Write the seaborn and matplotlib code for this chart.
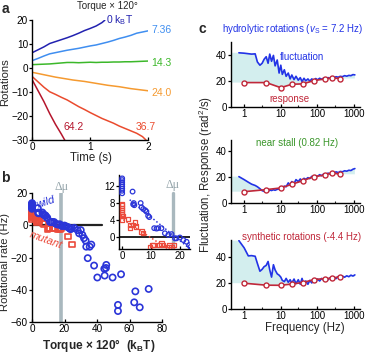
import numpy as np
import pandas as pd
import matplotlib
matplotlib.use("Agg")
import matplotlib.pyplot as plt
import seaborn as sns
from matplotlib.ticker import FixedLocator, NullFormatter, LogLocator

# ---------------- data ----------------
# panel a : rotation traces
t_0 = [0, 0.1, 0.2, 0.3, 0.4, 0.5, 0.6, 0.7, 0.8, 0.9, 1.0, 1.1, 1.2, 1.25]
rot_0 = [6.4, 7.6, 8.8, 10.2, 11.0, 11.8, 12.6, 13.5, 14.5, 15.6, 16.5, 17.5, 18.9, 19.9]
t_full = [0, 0.1, 0.2, 0.3, 0.4, 0.5, 0.6, 0.7, 0.8, 0.9, 1.0, 1.1, 1.2, 1.3, 1.4,
          1.5, 1.6, 1.7, 1.8, 1.9, 2.0]
rot_736 = [3.1, 4.0, 5.0, 5.9, 6.4, 6.9, 7.4, 7.8, 8.2, 8.7, 9.2, 9.6, 10.2, 10.8, 11.5,
           12.3, 12.9, 13.6, 14.5, 15.0, 15.5]
rot_143 = [1.4, 1.5, 1.6, 1.7, 1.9, 2.1, 2.3, 2.3, 2.2, 2.3, 2.4, 2.3, 2.4, 2.4, 2.5,
           2.5, 2.6, 2.6, 2.7, 2.8, 2.9]
rot_240 = [-1.8, -2.3, -2.8, -3.3, -3.8, -4.2, -4.6, -5.0, -5.3, -5.6, -6.0, -6.4, -6.8,
           -7.2, -7.5, -7.8, -8.2, -8.6, -8.9, -9.2, -9.5]
t_367 = [0, 0.1, 0.2, 0.3, 0.4, 0.5, 0.6, 0.7, 0.8, 0.9, 1.0, 1.1, 1.2, 1.3, 1.4,
         1.5, 1.6, 1.7, 1.8, 1.9, 1.96]
rot_367 = [-3.6, -5.8, -8.0, -9.9, -11.0, -12.2, -13.3, -14.7, -16.1, -17.3, -18.6, -19.8,
           -21.0, -22.0, -23.0, -24.2, -25.2, -26.2, -27.2, -28.6, -30.0]
t_642 = [0, 0.1, 0.2, 0.3, 0.4, 0.5, 0.57]
rot_642 = [-5.0, -9.5, -14.0, -19.0, -23.5, -27.5, -30.5]
trace_labels = ["0 k$_\\mathrm{B}$T", "7.36", "14.3", "24.0", "36.7", "64.2"]

# panel b : rotational rate vs torque
wild_torque = [0, 0, 0, 0, 0, 0, 0, 0,
               3.6, 3.8, 4.0, 4.2, 6.4, 6.7, 7.3, 8.0, 8.4, 9.0, 9.4,
               11.1, 11.9, 12.5, 13.6, 14.8, 16.0, 17.1, 18.3, 18.8, 20.0, 21.2,
               22.3, 23.2, 23.7,
               24.5, 26, 28, 29, 30, 31, 32, 33, 33.4, 35.5, 36.5, 34.3, 38.2, 40.2,
               44.5, 45.7, 45.5, 44.7, 49.6, 54.8, 52.9, 52.9, 63.6, 62.9, 66.3, 71.8]
wild_rate = [10.2, 10.8, 11.3, 11.8, 12.3, 12.8, 13.3, 13.7,
             10.6, 7.6, 7.9, 7.4, 7.9, 6.9, 6.5, 6.2, 5.9, 4.9, 4.6,
             2.0, 1.9, 2.0, 2.0, 0.8, 0.4, 0.6, -0.4, -0.4, -0.2, -0.8,
             -1.2, -2.0, -2.4,
             -2.0, -1.6, -3.0, -5.0, -3.0, -6.0, -8.0, -9.5, -13.3, -13.3, -12.0, -20.4,
             -25.0, -32.4, -27.0, -24.6, -26.5, -31.2, -32.4, -30.4, -49.4, -53.2, -41.0,
             -47.8, -50.9, -39.5]
mut_torque = [0, 0, 0, 0, 0, 0, 0, 0,
              0.3, 2.1, 2.9, 2.7, 3.8, 4.4, 4.7, 6.7, 7.3,
              9.6, 10.5, 10.9, 12.9, 13.6, 14.2, 16.0, 16.4, 17.1, 18.0, 22.1, 24.6]
mut_rate = [4.0, 4.8, 5.3, 5.8, 6.3, 6.8, 7.3, 7.7,
            4.9, 4.1, 2.8, 2.0, 2.8, 3.3, 2.4, 1.2, 0.8,
            -2.4, -2.0, -1.9, -1.9, -1.6, -2.0, -2.4, -2.0, -2.4, -2.0, -7.0, -12.0]
delta_mu_main = 18.0
delta_mu_inset = 17.5

# panel c : fluctuation & response spectra
freq = [0.72, 1.0, 1.3, 1.6, 2.0, 2.3, 2.7, 3.1, 3.5, 4.0,
        4.5, 5.0, 5.6, 6.3, 7.0, 8.0, 9.0, 10, 11, 12.5,
        14, 16, 18, 20, 23, 26, 30, 34, 38, 43,
        48, 55, 62, 70, 80, 90, 100, 115, 130, 150,
        170, 195, 220, 250, 285, 320, 370, 420, 480, 550,
        630, 720, 820, 930, 1050]
fluct_hydro = [41.5, 41.2, 40.8, 40.5, 40.7, 34.5, 32.0, 33.5, 36.5, 38.5,
               33.5, 40.5, 35.0, 39.5, 31.5, 36.0, 26.0, 32.0, 25.0, 28.5,
               23.5, 26.0, 21.5, 24.5, 21.0, 23.5, 20.5, 22.5, 19.5, 22.0,
               20.0, 21.5, 19.8, 21.5, 20.5, 21.8, 20.8, 22.0, 21.2, 22.3,
               21.5, 22.5, 22.0, 23.0, 22.3, 23.2, 22.8, 23.5, 23.2, 24.0,
               23.6, 24.2, 24.0, 24.8, 24.6]
fluct_stall = [20.3, 18.0, 16.0, 14.5, 13.5, 12.5, 11.0, 9.5, 9.0, 9.4,
               9.0, 10.0, 9.6, 10.2, 9.8, 10.5, 10.8, 11.0, 11.8, 13.0,
               12.5, 15.5, 13.8, 16.5, 15.0, 18.0, 16.5, 18.5, 17.2, 19.0,
               18.2, 19.5, 18.8, 20.5, 19.8, 21.0, 20.5, 21.8, 21.0, 22.5,
               21.8, 23.0, 22.3, 23.5, 22.8, 24.0, 23.4, 24.3, 24.0, 24.8,
               24.5, 25.2, 25.0, 26.0, 26.5]
fluct_synth = [52.5, 47.0, 40.8, 41.0, 40.5, 35.0, 29.0, 30.5, 32.5, 33.5,
               36.5, 30.0, 24.5, 34.0, 30.0, 27.0, 26.0, 24.5, 22.0, 21.0,
               23.5, 20.5, 22.5, 20.0, 23.0, 19.5, 22.5, 19.0, 23.5, 18.5,
               21.5, 19.0, 22.0, 20.0, 22.5, 20.8, 23.0, 21.5, 23.5, 22.0,
               23.8, 22.5, 24.0, 23.0, 24.5, 23.3, 25.0, 24.0, 25.3, 24.4,
               25.5, 24.8, 26.0, 25.3, 26.2]
resp_freq = [1, 4, 10, 20, 40, 80, 160, 250, 400]
resp_hydro = [18.7, 18.7, 14.8, 17.4, 17.7, 20.2, 21.5, 22.3, 21.8]
resp_stall = [8.7, 10.3, 11.6, 14.4, 17.2, 20.3, 21.5, 23.4, 22.1]
resp_synth = [19.8, 18.3, 18.2, 19.2, 20.3, 22.6, 23.4, 23.6, 24.8]
freq_ticks = [1, 10, 100, 1000]

# ---------------- style ----------------
sns.set_theme(style="ticks")
plt.rcParams['font.family'] = ['Liberation Sans', 'DejaVu Sans']
plt.rcParams['mathtext.fontset'] = 'custom'
plt.rcParams['mathtext.rm'] = 'Liberation Sans'
plt.rcParams['mathtext.it'] = 'Liberation Sans:italic'
plt.rcParams['mathtext.bf'] = 'Liberation Sans:bold'
plt.rcParams['axes.linewidth'] = 1.0

W, H = 367, 356
fig = plt.figure(figsize=(W / 100, H / 100), dpi=100)


def ax_px(l, t, r, b, **kw):
    return fig.add_axes([l / W, 1 - b / H, (r - l) / W, (b - t) / H], **kw)


def style(ax, fs=7):
    sns.despine(ax=ax)
    ax.tick_params(axis='both', labelsize=fs, width=0.9, length=2.0, pad=1.0, colors='black')
    ax.tick_params(axis='x', direction='in', pad=1.2)
    ax.tick_params(axis='y', direction='out')
    for s in ('left', 'bottom'):
        ax.spines[s].set_color('black')
    ax.set_xlabel('')
    ax.set_ylabel('')


def ftxt(x, y, s, **kw):
    fig.text(x / W, 1 - y / H, s, **kw)


# ---------------- panel a ----------------
cols_a = ['#2222b0', '#3f8ef0', '#3cb82a', '#f59a30', '#ea4b2e', '#b5162d']
ax_a = ax_px(32.3, 20, 148.3, 140)
traces = [(t_0, rot_0), (t_full, rot_736), (t_full, rot_143), (t_full, rot_240),
          (t_367, rot_367), (t_642, rot_642)]
for (tt, rr), c in zip(traces, cols_a):
    sns.lineplot(x=tt, y=rr, ax=ax_a, color=c, lw=1.1, sort=False, estimator=None)
ax_a.set_xlim(0, 2)
ax_a.set_ylim(-30, 20)
ax_a.set_xticks([0, 1, 2])
ax_a.set_yticks([-30, -20, -10, 0, 10, 20])
style(ax_a, 7.2)
lab_pos = [(106, 20), (151, 30), (151, 63), (151, 93), (136, 127), (63, 127)]
for (x, y), s, c in zip(lab_pos, trace_labels, cols_a):
    ftxt(x, y, s, color=c, fontsize=7.5, ha='left', va='center')
ftxt(5, 9, 'a', fontsize=10, fontweight='bold', ha='center', va='center')
ftxt(107, 6, 'Torque × 120°', fontsize=7, ha='center', va='center')
ftxt(5.5, 82, 'Rotations', fontsize=8.1, rotation=90, ha='center', va='center')
ftxt(91, 158, 'Time (s)', fontsize=8.3, ha='center', va='center')

# ---------------- panel b ----------------
blue_b = '#2b35d8'
red_b = '#eb4b3c'
band = '#a9b8be'
df_w = pd.DataFrame({'torque': wild_torque, 'rate': wild_rate})
df_m = pd.DataFrame({'torque': mut_torque, 'rate': mut_rate})

ax_b = ax_px(32, 193, 162, 322)
ax_b.axvline(delta_mu_main, color=band, lw=2.6, zorder=0)
ax_b.axhline(0, xmin=0, xmax=43 / 80, color='#222222', lw=1.6, zorder=1)
sns.scatterplot(data=df_m, x='torque', y='rate', ax=ax_b, marker='s', s=16,
                facecolor='none', edgecolor=red_b, linewidth=1.2, clip_on=False, zorder=3)
sns.scatterplot(data=df_w, x='torque', y='rate', ax=ax_b, marker='o', s=20,
                facecolor='none', edgecolor=blue_b, linewidth=1.2, clip_on=False, zorder=4)
ax_b.set_xlim(0, 80)
ax_b.set_ylim(-60, 20)
ax_b.set_xticks([0, 20, 40, 60, 80])
ax_b.set_yticks([-60, -40, -20, 0, 20])
style(ax_b, 7.2)
ax_b.text(delta_mu_main, 20.3, 'Δμ', color='#93a3a9', fontsize=8.5, ha='center', va='bottom',
          family=['Liberation Serif', 'DejaVu Serif'])
ftxt(46, 202, 'wild', color=blue_b, fontsize=8, style='italic', rotation=18,
     ha='center', va='center')
ftxt(46, 240, 'mutant', color=red_b, fontsize=8, style='italic', rotation=-20,
     ha='center', va='center')
ftxt(5, 178, 'b', fontsize=10, fontweight='bold', ha='center', va='center')
ftxt(5.5, 262, 'Rotational rate (Hz)', fontsize=8.1, rotation=90, ha='center', va='center')
ftxt(99, 346, 'Torque × 120°  (k$_\\mathbf{B}$T)', fontsize=8.5, fontweight='bold',
     ha='center', va='center')

# inset
ax_i = ax_px(119.3, 175, 190, 249)
ax_i.set_facecolor('white')
ax_i.set_zorder(5)
ax_i.axvline(delta_mu_inset, ymin=0, ymax=(10.3 + 2.9) / 17.4, color=band, lw=2.4, zorder=0)
ax_i.axhline(0, color='#222222', lw=1.4, zorder=1)
wi = df_w[df_w.torque <= 24]
mi = df_m[df_m.torque <= 24]
for d, c, lo, hi in ((wi, blue_b, 0.1, 24), (mi, red_b, 0.1, 17.5)):
    fit_d = d[(d.torque > lo) & (d.torque <= hi)]
    k, b0 = np.polyfit(fit_d.torque, fit_d.rate, 1)
    xs = np.array([fit_d.torque.min() - 1, fit_d.torque.max()])
    ax_i.plot(xs, k * xs + b0, ls=(0, (1, 1.5)), color=c, lw=1.1, zorder=2)
sns.scatterplot(data=mi, x='torque', y='rate', ax=ax_i, marker='s', s=10,
                facecolor='none', edgecolor=red_b, linewidth=0.9, zorder=3)
sns.scatterplot(data=wi, x='torque', y='rate', ax=ax_i, marker='o', s=11,
                facecolor='none', edgecolor=blue_b, linewidth=0.9, zorder=4)
ax_i.set_xlim(-1, 23.5)
ax_i.set_ylim(-2.9, 14.5)
ax_i.set_xticks([0, 10, 20])
ax_i.set_yticks([0, 4, 8, 12])
style(ax_i, 7)
ax_i.text(delta_mu_inset, 12.2, 'Δμ', color='#93a3a9', fontsize=8.5, ha='center',
          va='center', family=['Liberation Serif', 'DejaVu Serif'])

# ---------------- panel c ----------------
blue_c = '#2233e6'
red_c = '#c0283a'
fill_c = '#d3eeee'
narrow = ['Liberation Sans Narrow', 'Liberation Sans', 'DejaVu Sans']
xl = (0.43, 1450)
boxes = [(41.7, 107, 50), (140, 203, 48.5), (240, 309, 53)]
flucts = [fluct_hydro, fluct_stall, fluct_synth]
resps = [resp_hydro, resp_stall, resp_synth]
for (top, bot, ymax), fl, rv in zip(boxes, flucts, resps):
    ax = ax_px(230.7, top, 360, bot)
    xf = np.concatenate([[xl[0]], freq])
    ytop = np.concatenate([[fl[0]], fl])
    ybot = np.interp(np.log10(xf), np.log10(resp_freq), rv)
    ax.fill_between(xf, ybot, ytop, where=ytop > ybot, interpolate=True,
                    color=fill_c, lw=0, zorder=0)
    sns.lineplot(x=freq, y=fl, ax=ax, color=blue_c, lw=1.2, sort=False,
                 estimator=None, zorder=2)
    sns.lineplot(x=resp_freq, y=rv, ax=ax, color=red_c, lw=1.2, sort=False,
                 estimator=None, marker='o', markersize=3.6, markerfacecolor='white',
                 markeredgecolor=red_c, markeredgewidth=1.0, zorder=3)
    ax.set_xscale('log')
    ax.set_xlim(*xl)
    ax.set_ylim(0, ymax)
    ax.xaxis.set_major_locator(FixedLocator(freq_ticks))
    ax.set_xticklabels([str(v) for v in freq_ticks])
    ax.xaxis.set_minor_locator(LogLocator(base=10, subs=(3.0,)))
    ax.xaxis.set_minor_formatter(NullFormatter())
    ax.set_yticks([0, 20, 40])
    style(ax, 7)
    ax.tick_params(axis='x', which='minor', direction='in', length=1.5, width=0.8)

ftxt(202, 29, 'c', fontsize=10, fontweight='bold', ha='center', va='center')
ftxt(292, 29, 'hydrolytic rotations ($v_\\mathrm{S}$ = 7.2 Hz)', color=blue_c,
     fontsize=7, ha='center', va='center', family=narrow)
ftxt(302, 57, 'fluctuation', color=blue_c, fontsize=7, ha='center', va='center', family=narrow)
ftxt(289, 99, 'response', color=red_c, fontsize=7, ha='center', va='center', family=narrow)
ftxt(297, 143, 'near stall (0.82 Hz)', color='#3a962a', fontsize=7, ha='center',
     va='center', family=narrow)
ftxt(302, 237, 'synthetic rotations (-4.4 Hz)', color=red_c, fontsize=7, ha='center',
     va='center', family=narrow)
ftxt(206, 174, 'Fluctuation, Response (rad$^2$/s)', fontsize=8.3, rotation=90,
     ha='center', va='center')
ftxt(305, 328, 'Frequency (Hz)', fontsize=8.3, ha='center', va='center')

fig.savefig('out.png', dpi=100)
